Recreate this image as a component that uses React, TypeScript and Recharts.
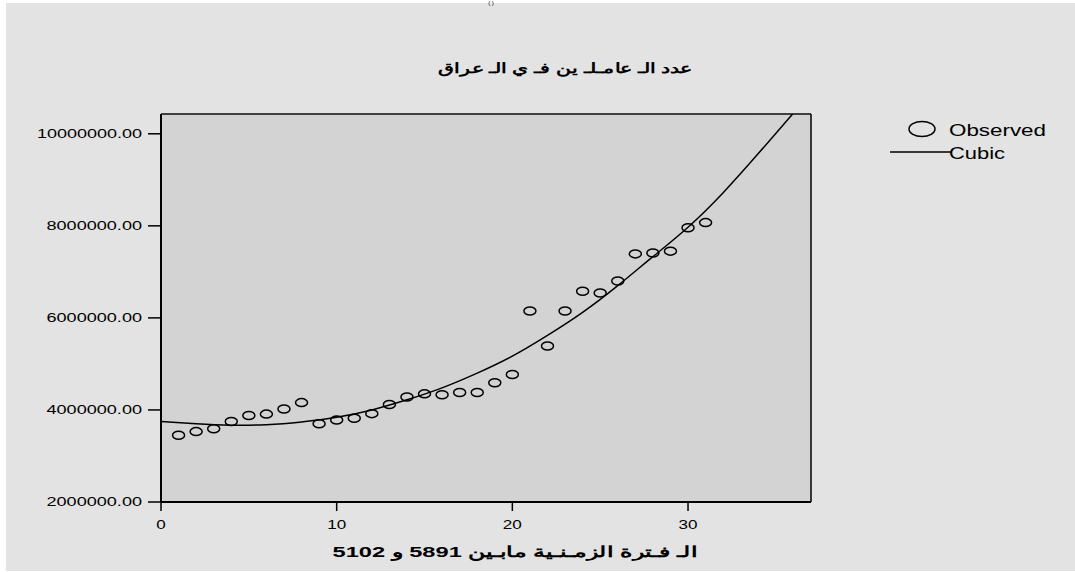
import React from 'react';
import { ComposedChart, Scatter, Line, XAxis, YAxis, CartesianGrid, ReferenceLine } from 'recharts';

// observed points, period index 1..31
const obsX = [1, 2, 3, 4, 5, 6, 7, 8, 9, 10, 11, 12, 13, 14, 15, 16, 17, 18, 19, 20, 21, 22, 23, 24, 25, 26, 27, 28, 29, 30, 31];
const obsY = [
  3450000, 3530000, 3590000, 3750000, 3880000, 3910000, 4020000, 4160000, 3700000, 3780000,
  3820000, 3920000, 4120000, 4280000, 4350000, 4330000, 4380000, 4380000, 4590000, 4770000,
  6150000, 5390000, 6150000, 6580000, 6540000, 6800000, 7390000, 7410000, 7450000, 7960000, 8070000,
];

// cubic fit line
const cubicX = [0, 2, 4, 6, 8, 10, 12, 14, 16, 18, 20, 22, 24, 26, 28, 30, 32, 34, 36];
const cubicY = [
  3750000, 3700000, 3670000, 3680000, 3740000, 3840000, 4000000, 4220000, 4480000, 4800000,
  5170000, 5620000, 6120000, 6700000, 7330000, 7970000, 8720000, 9570000, 10450000,
];

const xTicks = [0, 10, 20, 30];
const yTicks = [2000000, 4000000, 6000000, 8000000, 10000000];

const title = 'عدد الـ عامـلـ ين فـ ي الـ عراق';
const xTitle = 'الـ فـترة الزمـنـية مابـين 5891 و 5102';

const FONT = '"Liberation Sans", Arial, sans-serif';

const obsData = obsX.map((x, i) => ({ x, y: obsY[i] }));
const cubicData = cubicX.map((x, i) => ({ x, y: cubicY[i] }));

const YTick = (props: any) => {
  const label = Number(props.payload.value).toFixed(2);
  return (
    <text x={142} y={props.y} textAnchor="end" dominantBaseline="central" fontSize={12}
      fontFamily={FONT} fill="#000" textLength={label.length * 9.55} lengthAdjust="spacingAndGlyphs">
      {label}
    </text>
  );
};

const XTick = (props: any) => {
  const label = String(props.payload.value);
  return (
    <text x={props.x} y={525} textAnchor="middle" dominantBaseline="central" fontSize={12}
      fontFamily={FONT} fill="#000" textLength={label.length * 9.5} lengthAdjust="spacingAndGlyphs">
      {label}
    </text>
  );
};

const Ring = (props: any) => (
  <ellipse cx={props.cx} cy={props.cy} rx={6} ry={4} fill="none" stroke="#000" strokeWidth={1.5} />
);

export default function App() {
  return (
    <div style={{ position: 'fixed', left: 0, top: 0, width: 1075, height: 572, background: '#fff', overflow: 'hidden' }}>
      <div style={{ position: 'absolute', left: 6, top: 3, width: 1069, height: 568, background: '#e3e3e3' }} />
      <div style={{ position: 'absolute', left: 0, top: 0 }}>
        <ComposedChart width={1075} height={572} margin={{ top: 114, right: 264, bottom: 40, left: 101 }}>
          <CartesianGrid horizontal={false} vertical={false} fill="#d3d3d3" />
          <XAxis
            type="number"
            dataKey="x"
            domain={[0, 37]}
            ticks={xTicks}
            allowDataOverflow
            height={30}
            tick={<XTick />}
            tickSize={9}
            axisLine={{ stroke: '#000', strokeWidth: 2 }}
            tickLine={{ stroke: '#000', strokeWidth: 1.5 }}
          />
          <YAxis
            type="number"
            dataKey="y"
            domain={[2000000, 10430000]}
            ticks={yTicks}
            allowDataOverflow
            width={60}
            tick={<YTick />}
            tickSize={13}
            axisLine={{ stroke: '#000', strokeWidth: 2 }}
            tickLine={{ stroke: '#000', strokeWidth: 1.5 }}
          />
          <ReferenceLine y={10430000} stroke="#404040" strokeWidth={2} />
          <ReferenceLine x={37} stroke="#000" strokeWidth={1.5} />
          <Line
            data={cubicData}
            dataKey="y"
            type="natural"
            stroke="#000"
            strokeWidth={1.5}
            dot={false}
            activeDot={false}
            isAnimationActive={false}
          />
          <Scatter data={obsData} dataKey="y" shape={<Ring />} isAnimationActive={false} />
        </ComposedChart>
      </div>
      <svg width={1075} height={572} style={{ position: 'absolute', left: 0, top: 0, pointerEvents: 'none' }}>
        <text x={491} y={5} textAnchor="middle" fontSize={6} fontFamily={FONT} fill="#000">(   )</text>
        <text x={565} y={68} textAnchor="middle" dominantBaseline="central" fontSize={14} fontWeight="bold"
          fontFamily={FONT} fill="#000" textLength={254} lengthAdjust="spacingAndGlyphs">
          {title}
        </text>
        <text x={515} y={551} textAnchor="middle" dominantBaseline="central" fontSize={15} fontWeight="bold"
          fontFamily={FONT} fill="#000" textLength={365} lengthAdjust="spacingAndGlyphs">
          {xTitle}
        </text>
        <ellipse cx={922} cy={129} rx={13} ry={7.5} fill="none" stroke="#000" strokeWidth={1.5} />
        <text x={949} y={130} dominantBaseline="central" fontSize={16} fontFamily={FONT} fill="#000"
          textLength={97} lengthAdjust="spacingAndGlyphs">Observed</text>
        <line x1={890} x2={952} y1={152} y2={152} stroke="#000" strokeWidth={1.3} />
        <text x={949} y={153} dominantBaseline="central" fontSize={16} fontFamily={FONT} fill="#000"
          textLength={56} lengthAdjust="spacingAndGlyphs">Cubic</text>
      </svg>
    </div>
  );
}
